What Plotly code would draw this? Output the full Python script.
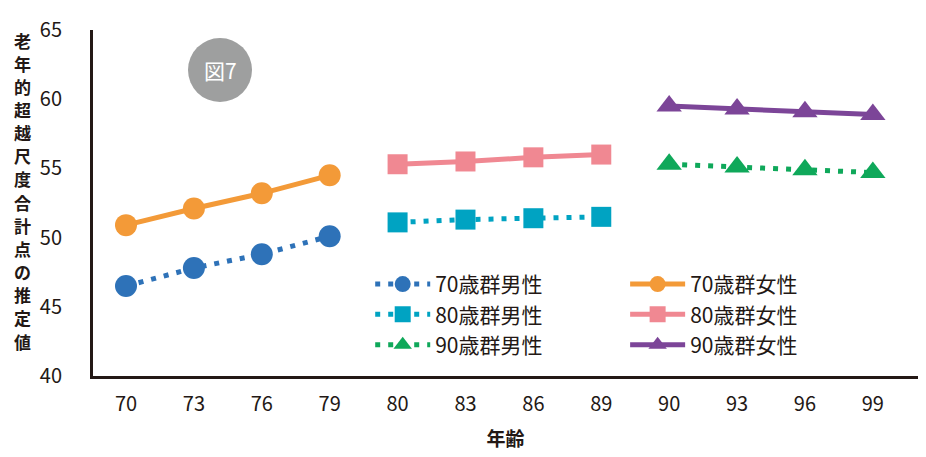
import plotly.graph_objects as go

ages = ["70", "73", "76", "79", "80", "83", "86", "89", "90", "93", "96", "99"]
age70 = ["70", "73", "76", "79"]
age80 = ["80", "83", "86", "89"]
age90 = ["90", "93", "96", "99"]

m70 = [46.5, 47.8, 48.8, 50.1]
f70 = [50.9, 52.1, 53.2, 54.5]
m80 = [51.1, 51.3, 51.4, 51.5]
f80 = [55.3, 55.5, 55.8, 56.0]
m90 = [55.3, 55.1, 54.9, 54.7]
f90 = [59.5, 59.3, 59.1, 58.9]

y_ticks = [40, 45, 50, 55, 60, 65]
y_title = "老年的超越尺度合計点の推定値"
x_title = "年齢"

FONT = "Noto Sans CJK JP"
INK = "#231815"

fig = go.Figure()

series = [
    ("70歳群男性", age70, m70, "#2E72B8", "circle", 22, "legend", True),
    ("80歳群男性", age80, m80, "#00A3C2", "square", 20, "legend", True),
    ("90歳群男性", age90, m90, "#0FA85A", "triangle-up", 22, "legend", True),
    ("70歳群女性", age70, f70, "#F39A38", "circle", 22, "legend2", False),
    ("80歳群女性", age80, f80, "#F08892", "square", 20, "legend2", False),
    ("90歳群女性", age90, f90, "#7C4598", "triangle-up", 22, "legend2", False),
]

for name, xs, ys, color, sym, size, leg, dotted in series:
    fig.add_trace(go.Scatter(
        x=xs, y=ys, name=name, mode="lines+markers",
        line=dict(color=color, width=5, dash="5px,8px" if dotted else "solid"),
        marker=dict(symbol=sym, size=size, color=color, line=dict(width=0)),
        legend=leg,
    ))

legend_common = dict(
    font=dict(family=FONT, size=21, color=INK),
    bgcolor="rgba(0,0,0,0)", orientation="v",
    xanchor="left", yanchor="top", itemwidth=55, tracegroupgap=0,
)

fig.update_layout(
    width=926, height=457,
    margin=dict(l=93, r=8, t=30, b=81),
    plot_bgcolor="white", paper_bgcolor="white",
    showlegend=True,
    legend=dict(x=0.336, y=0.324, **legend_common),
    legend2=dict(x=0.645, y=0.324, **legend_common),
    xaxis=dict(
        type="category", categoryorder="array", categoryarray=ages,
        range=[-0.486, 11.665], showgrid=False, zeroline=False,
        showline=True, linecolor=INK, linewidth=3,
        ticks="", tickfont=dict(family=FONT, size=20, color=INK),
        ticklabelstandoff=8,
        title=dict(text="<b>" + x_title + "</b>", font=dict(family=FONT, size=19, color=INK), standoff=17),
    ),
    yaxis=dict(
        range=[40, 65], tickvals=y_ticks, showgrid=False, zeroline=False,
        showline=True, linecolor=INK, linewidth=3,
        ticks="", tickfont=dict(family=FONT, size=20, color=INK),
        ticklabelstandoff=24,
    ),
)

# vertical (stacked) y-axis title, one character per row
n = len(y_title)
top_px, bot_px = 40, 341
for i, ch in enumerate(y_title):
    ypx = top_px + (bot_px - top_px) * i / (n - 1)
    fig.add_annotation(
        xref="paper", yref="paper", x=(22 - 93) / 825, y=(376 - ypx) / 346,
        xanchor="center", yanchor="middle", text="<b>" + ch + "</b>", showarrow=False,
        font=dict(family=FONT, size=17, color=INK), borderpad=0,
    )

# badge "図7"
fig.add_shape(type="circle", xref="paper", yref="paper",
              x0=(188 - 93) / 825, x1=(252 - 93) / 825,
              y0=(376 - 102) / 346, y1=(376 - 38) / 346,
              fillcolor="#9E9F9F", line=dict(width=0), layer="below")
fig.add_annotation(xref="paper", yref="paper", x=(220 - 93) / 825, y=(376 - 70) / 346,
                   text="図7", showarrow=False, xanchor="center", yanchor="middle",
                   font=dict(family=FONT, size=21, color="white"))

fig.write_html("out.html")
